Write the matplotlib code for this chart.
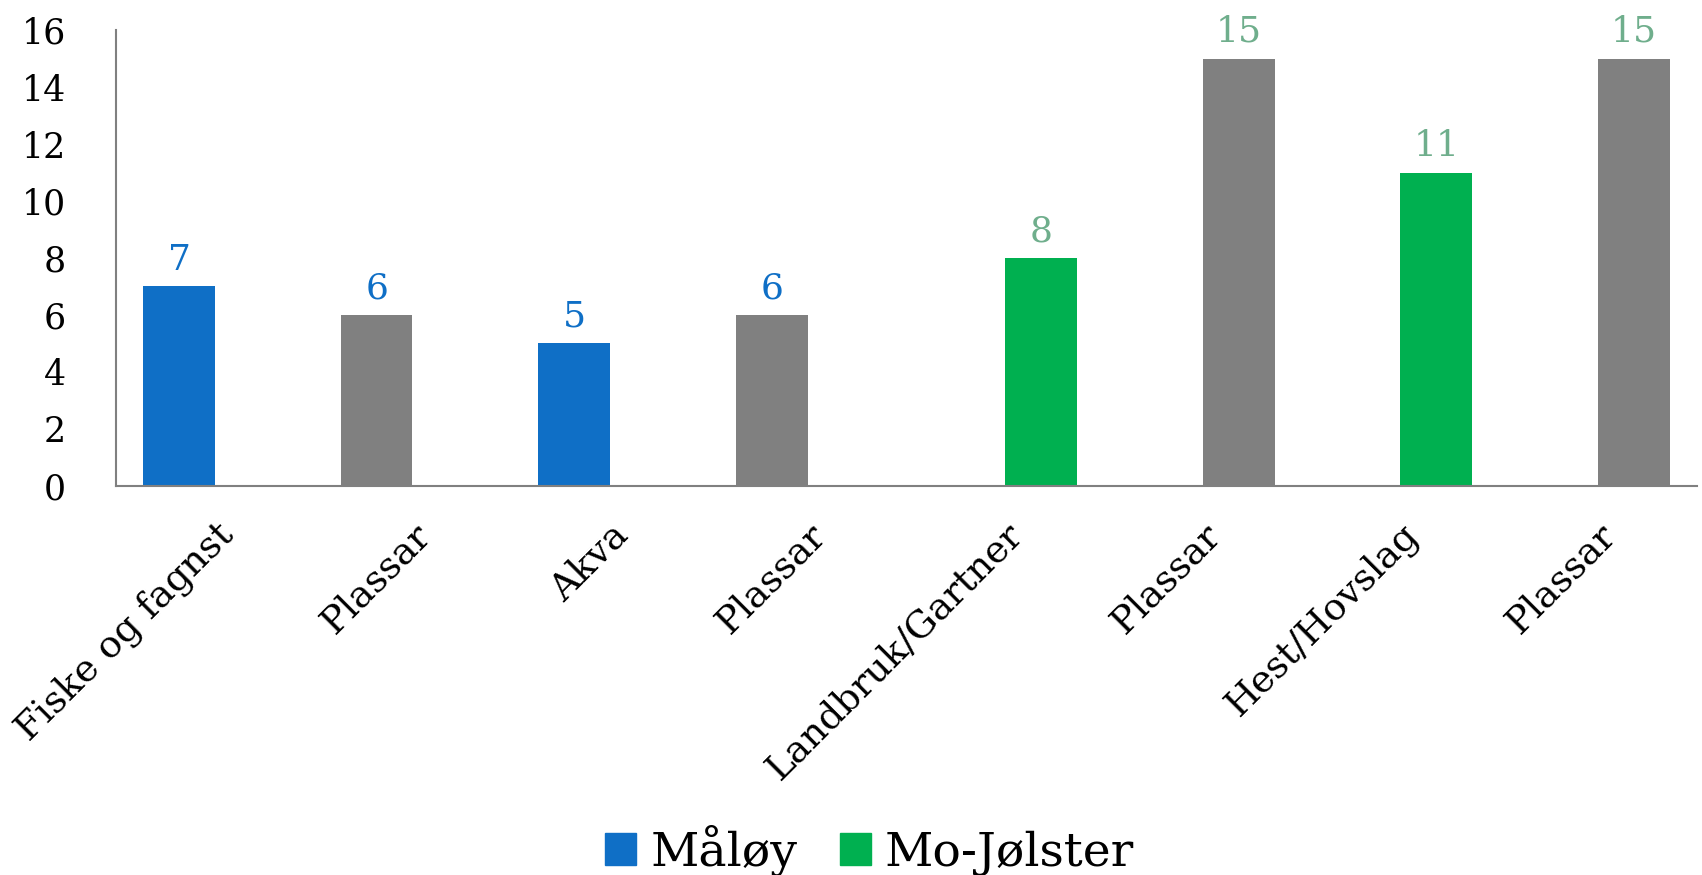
import matplotlib
matplotlib.use("Agg")
import matplotlib.pyplot as plt
import numpy as np
from matplotlib.patches import Patch

categories = ["Fiske og fagnst", "Plassar", "Akva", "Plassar",
              "Landbruk/Gartner", "Plassar", "Hest/Hovslag", "Plassar"]
maloy = [7, 6, 5, 6, None, None, None, None]
mojolster = [None, None, None, None, 8, 15, 11, 15]
maloy_colors = ["#0F6FC6", "#808080", "#0F6FC6", "#808080"]
mojolster_colors = ["#00B050", "#808080", "#00B050", "#808080"]
yticks = [0, 2, 4, 6, 8, 10, 12, 14, 16]

FONT = "DejaVu Serif"
plt.rcParams["font.family"] = [FONT]

fig = plt.figure(figsize=(17.02, 8.75), dpi=100)
ax = fig.add_axes([0.0682, 0.4446, 0.9288, 0.5211])

x = np.arange(len(categories))
bw = 0.3625
off = bw / 2

mi = [i for i, v in enumerate(maloy) if v is not None]
mv = [maloy[i] for i in mi]
ji = [i for i, v in enumerate(mojolster) if v is not None]
jv = [mojolster[i] for i in ji]

b1 = ax.bar(x[mi] - off, mv, width=bw, color=maloy_colors, label="Måløy", zorder=2)
b2 = ax.bar(x[ji] + off, jv, width=bw, color=mojolster_colors, label="Mo-Jølster", zorder=2)

for rect, v in zip(b1, mv):
    ax.annotate(str(v), (rect.get_x() + rect.get_width() / 2, v),
                xytext=(0, 7), textcoords="offset points", ha="center", va="bottom",
                fontsize=26, color="#0F6FC6")
for rect, v in zip(b2, jv):
    ax.annotate(str(v), (rect.get_x() + rect.get_width() / 2, v),
                xytext=(0, 7), textcoords="offset points", ha="center", va="bottom",
                fontsize=26, color="#6FAE8C")

ax.set_xlim(-0.5, len(categories) - 0.5)
ax.set_ylim(0, 16)
ax.set_yticks(yticks)
ax.set_yticklabels([str(t) for t in yticks], fontsize=25)
ax.set_xticks(x)
ax.set_xticklabels(categories, rotation=45, ha="right", rotation_mode="anchor", fontsize=27)
ax.tick_params(axis="y", length=0, pad=36)
ax.tick_params(axis="x", length=0, pad=22)

for s in ["top", "right"]:
    ax.spines[s].set_visible(False)
for s in ["left", "bottom"]:
    ax.spines[s].set_color("#808080")
    ax.spines[s].set_linewidth(1.5)

handles = [Patch(color="#0F6FC6", label="Måløy"), Patch(color="#00B050", label="Mo-Jølster")]
fig.legend(handles=handles, loc="center", bbox_to_anchor=(0.511, 0.028), ncol=2,
           frameon=False, fontsize=34, handlelength=0.65, handleheight=0.65,
           handletextpad=0.3, columnspacing=0.9)

fig.savefig("out.png", dpi=100, facecolor="white")
